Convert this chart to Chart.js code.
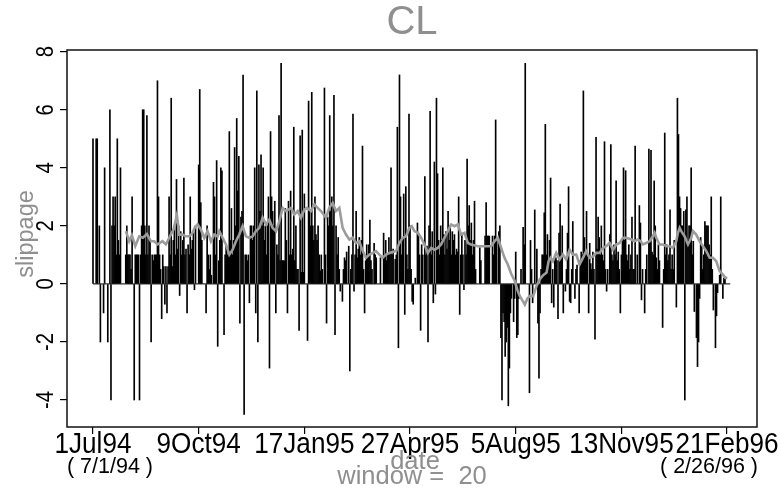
<!DOCTYPE html>
<html lang="en">
<head>
    <meta charset="UTF-8">
    <script src="https://cdn.jsdelivr.net/npm/chart.js"></script>
    <style>
        body { margin: 0; background: #fff; }
    </style>
    <title>CL slippage</title>
</head>
<body>
    <canvas id="slipChart" width="778" height="489"></canvas>

    <script>
        // x axis = calendar days counted from 1Jul94
        const tickDays = [0, 100, 200, 300, 400, 500, 600];
        const tickLabels = ['1Jul94', '9Oct94', '17Jan95', '27Apr95', '5Aug95', '13Nov95', '21Feb96'];
        const yTicks = [-4, -2, 0, 2, 4, 6, 8];
        const firstDay = 0, lastDay = 603;   // 7/1/94 .. 2/26/96

        // daily slippage
        const slipDays = [
            0,3,4,6,7,10,11,14,16,17, 18,19,20,21,22,23,24,25,26,31,
            32,33,34,35,36,37,39,40,41,42, 43,44,45,46,47,48,49,50,51,52,
            53,54,55,56,57,58,59,60,61,62, 63,64,65,66,67,68,69,70,71,72,
            73,74,75,76,77,78,79,80,81,82, 83,84,85,86,87,88,89,90,91,92,
            93,94,95,96,97,
            100,101,102,103,107,108,109,110,111,112, 114,115,116,117,118,119,120,121,122,124,
            125,126,127,128,129,130,131,132,133,134, 135,136,137,138,139,140,141,142,143,144,
            145,146,147,148,149,150,151,152,153,154, 155,156,157,158,159,160,161,162,163,164,
            165,166,167,168,169,170,171,172,173,174, 175,176,177,178,179,180,181,182,183,184,
            185,186,187,188,189,190,191,192,193,194, 195,196,197,198,199,200,
            203,204,205,206,207,208,209,210,211,212, 213,214,215,216,217,219,220,221,222,223,
            224,225,226,227,228,229,230,231,232,233, 234,236,237,238,239,240,242,243,244,245,
            246,247,248,249,250,251,252,253,254,255, 256,257,258,259,260,261,262,263,264,266,
            267,268,272,275,276,277,278,279,280,281, 282,283,284,286,287,288,289,290,291,292,
            293,294,295,296,297,298,299,300,301,302, 303,305,
            307,308,309,310,311,312,314,315,316,317, 318,319,320,321,322,323,324,325,326,327,
            328,329,330,331,332,333,334,335,336,337, 338,339,340,341,342,343,344,345,346,347,
            348,349,350,351,352,353,354,355,356,357, 358,359,360,361,362,366,367,371,372,373,
            374,375,378,379,380,381,382,384,385,386, 387,388,389,390,391,392,393,394,395,396,
            398,399,400,401,402,403,405,407,408,409,
            413,414,415,416,418,420,421,422,423,424, 425,426,427,428,429,430,431,432,433,434,
            435,436,437,438,439,440,441,442,443,444, 445,447,448,449,450,451,452,453,454,456,
            457,458,460,461,462,463,464,465,466,467, 468,469,470,471,472,473,474,475,476,477,
            478,479,480,481,482,483,484,485,486,487, 489,490,491,492,493,494,495,496,497,498,
            499,500,501,502,503,504,505,506,507,508, 509,510,511,512,513,
            515,517,518,519,520,522,523,524,526,527, 528,529,530,531,532,533,534,535,536,539,
            540,541,542,543,544,545,546,547,548,549, 550,552,553,554,555,556,557,558,559,560,
            561,562,563,564,565,566,567,568,569,571, 572,573,574,575,576,577,578,579,580,581,
            582,583,584,585,586,587,589,590,591,593, 594,596,597,598
        ];
        const slipValues = [
            5,5,5,2,-2,-1,4,-2,6,-4, 2,3,2,3,1,5,1.5,1,4,1,
            2,1,1,1,0.5,3,-4,1,1,1, 1,-4,1,2,6,6,2,1,5.8,1,
            2,1.5,-2,1,0.8,1,1,1,7,3, 1,0.5,-1.2,1,0.6,-0.7,0.6,-1,0.6,3,
            1,6.4,0.6,1.5,2,1,3.6,1.2,2,-0.4, 1.8,1,1.5,3.65,1,1.2,-1,1.35,1,3,
            1.2,1.5,1.8,-0.2,2,
            4.1,6.7,2.8,1.5,-1,2,1,0.5,1,0.3, 3.5,3,1,4.25,-2.15,0.8,1.5,4,3.9,-1.75,
            1,1.3,1,1.2,5.25,1.5,2.6,1,1.5,4.7, 2,5.7,3.2,4.4,-1.35,2.3,2.5,7.2,-4.5,1,
            1,0.8,1,-0.65,2,2,1.5,2,4,-1, 6.65,-2,4.1,2.5,4.45,2,4,1.5,2,1,
            2,3,-2.9,5.25,3,2.5,2,2.85,-1,1.35, 1,5.8,0.8,7.6,0.8,0.8,0.8,2.6,1.5,-1,
            2.85,1,3.2,1,1.2,5.4,0.8,2,0.5,0.5, -1.6,5.1,0.4,5.3,0.4,3.1,
            -1.95,6.3,2.5,2,6.6,2,1.5,3,1.7,1.5, 2,1,0.45,1,0.5,6.75,1,-1.35,2.3,2,
            5.8,2.5,3,2,6.5,-1.75,2,1,1.6,0.5, -0.25,-0.6,0.5,0.9,0.8,1.1,1.3,-3,0.5,1,
            5.85,-0.25,1,2.5,0.9,1.2,1.6,1,1.5,4.75, 0.5,-1,0.8,1.35,1,1.35,2.2,0.8,0.5,1.4,
            1,0.9,0.9,1.75,1,1.5,0.8,1,1.6,1, 4,1,1.2,0.85,1,5.4,-2.2,7.2,3,1,
            1.5,3.1,-1.05,3.35,1,0.5,5.85,2,0.5,-0.6, -0.7,0.2,
            2.1,1.75,1,-1.6,1.35,1,3.7,1,1.3,-2, 2,5.95,1,1.8,-0.65,4.2,-0.35,6.4,3.8,1.5,
            1,2,1.5,4,1.7,1,1.8,1.2,2.5,1.5, 2,1,1.8,1.5,1.7,1,1.2,1.1,3,-1.05,
            1,1.75,1,-0.2,1.5,1,4.3,2,2.7,1.5, 2.1,1,1.5,2.85,0.5,1.25,0.8,1.65,2.8,1.65,
            1.65,1.65,1.65,1,1.65,5.65,1.5,1.8,2,-1.85, -4,-1,-1.3,-2.5,-2,-1.5,-4.2,-2.9,-1,-0.5,
            -1.3,-0.5,1.1,-1.85,-1.75,-0.5,0.5,1.95,1.35,7.6,
            -3.75,1.5,0.5,-0.65,2.55,1.2,-1.35,-3.25,-1,0.5, 1,1,2.45,5.5,1,1.7,0.8,1.5,3.65,-0.65,
            0.5,-0.8,1,0.9,0.8,-1.2,1.75,2.75,1,2, -1,-0.25,0.5,1.75,3.35,-0.6,-0.65,0.5,2.15,-0.5,
            0.5,0.65,-1,0.8,1.1,1,6.65,1.6,1,2.5, 1,-1,1.4,0.7,0.5,1.1,0.5,-1.9,5.05,1.2,
            2.3,1.6,1,2,1,0.8,4.9,0.5,-0.25,0.5, 1.7,4.8,1,0.8,1.35,1,3.55,0.8,1.1,0.5,
            -1,1,1.5,4,1.5,3.9,1,0.8,1.35,0.5, 1,2.3,0.5,0.5,4.75,
            1,2.7,2.1,-0.55,0.5,-1,0.5,1,4.65,1.5, 4.6,1.1,1,3.55,2,0.9,0.5,1.35,0.8,-1.5,
            0.5,5.2,1,1.35,0.8,1,2.55,0.5,1,0.5, 1.5,-0.8,6.4,5.15,3,2.6,2,2,2.5,-4,
            2.55,3,1.5,2,2,4,1,1.47,-0.95,-1.85, -2.85,-2,-0.5,1.6,1.35,0.5,1,2.15,2,2,
            2,1.35,1,3,0.5,-0.9,-2.2,-1.1,-0.3,0.3, 3,-0.5,0.2,0.2
        ];

        // 20-day moving average of slippage
        const maDays = [
            31.1,34.3,36.8,40.0,43.7,47.2,51.0,54.8,57.9,61.1,
            65.8,69.0,72.1,76.2,79.4,81.6,84.8,87.9,91.1,94.2,
            96.4,99.0,102.1,105.3,108.4,111.6,114.7,117.9,119.5,122.6,
            125.8,129.0,132.1,135.3,138.4,141.6,144.7,147.9,151.1,154.2,
            157.4,160.5,163.7,166.8,170.0,173.2,176.3,179.5,182.6,187.4,
            190.5,193.7,196.8,200.0,202.5,206.3,209.4,212.6,215.7,220.5,
            223.6,226.8,229.9,233.1,236.2,239.4,242.6,245.7,248.9,252.0,
            255.2,258.3,261.5,264.7,267.8,271.0,274.1,277.3,280.4,283.6,
            286.8,289.9,293.1,296.2,299.4,301.6,304.1,307.3,310.5,313.6,
            316.8,319.9,323.1,326.2,329.4,332.6,335.7,338.9,342.0,345.2,
            348.3,351.5,354.7,357.8,364.1,370.4,376.8,379.9,383.1,386.2,
            389.4,392.5,395.7,399.1,401.5,403.9,406.0,408.6,411.0,413.4,
            416.5,419.7,422.8,426.0,429.2,431.1,433.0,435.2,438.3,441.5,
            444.6,447.8,451.0,454.1,457.3,460.4,463.6,466.7,469.9,473.1,
            476.2,479.4,482.5,485.7,488.8,492.0,495.2,498.3,501.5,504.6,
            509.4,512.5,515.6,518.1,520.3,523.5,526.7,529.8,531.4,533.0,
            536.1,539.3,542.4,545.6,548.7,550.3,551.9,553.5,555.1,556.6,
            559.8,563.0,566.1,567.7,570.8,574.0,577.2,580.3,583.5,586.6,
            589.8,592.9,596.1,598.3,600.2
        ];
        const maValues = [
            1.82,1.47,1.68,1.30,1.64,1.59,1.72,1.47,1.47,1.36,
            1.47,1.36,1.59,1.87,2.37,1.70,1.70,1.64,1.64,1.76,
            1.95,2.05,1.87,1.59,1.82,1.47,1.70,1.64,1.82,1.59,
            1.36,1.01,1.18,1.47,1.70,1.99,1.64,1.59,1.64,1.82,
            1.93,2.28,2.05,2.22,1.93,1.82,2.16,2.62,2.51,2.62,
            2.39,2.51,2.28,2.56,2.62,2.51,2.74,2.62,2.51,2.28,
            2.62,2.79,2.51,2.62,1.93,1.70,1.53,1.59,1.41,1.47,
            1.13,0.90,1.01,1.07,1.13,1.01,0.90,1.01,1.07,1.10,
            1.13,1.41,1.59,1.64,1.93,1.99,1.82,1.76,1.59,1.36,
            1.07,1.24,1.18,1.24,1.36,1.59,1.82,2.05,1.99,2.05,
            1.70,1.76,1.41,1.36,1.30,1.30,1.30,1.47,1.59,1.24,
            0.90,0.67,0.35,0.10,-0.20,-0.42,-0.55,-0.71,-0.50,-0.42,
            -0.42,-0.07,0.16,0.30,0.39,0.78,0.90,0.78,1.07,0.84,
            1.01,0.84,1.18,1.01,1.01,0.67,0.90,1.13,0.90,0.95,
            1.07,1.07,1.24,1.30,1.41,1.18,1.36,1.41,1.59,1.59,
            1.53,1.47,1.53,1.47,1.36,1.41,1.47,1.64,1.76,1.59,
            1.36,1.36,1.30,1.30,1.24,1.36,1.47,1.76,1.93,1.82,
            1.64,1.36,1.59,1.82,1.70,1.47,1.30,1.13,0.90,0.90,
            0.78,0.44,0.32,0.21,0.21
        ];

        const FONT = '"Liberation Sans", Arial, Helvetica, sans-serif';
        const GREY = '#8f8f8f';

        // text helper: sx < 1 squeezes the glyphs to get a narrow face
        function drawText(c, text, x, y, size, color, sx, angle) {
            c.save();
            c.translate(x, y);
            if (angle) c.rotate(angle);
            c.scale(sx, 1);
            c.font = size + 'px ' + FONT;
            c.fillStyle = color;
            c.textAlign = 'center';
            c.textBaseline = 'middle';
            c.fillText(text, 0, 0);
            c.restore();
        }

        // frame, title, tick labels and the notes under the x axis
        const extraText = {
            id: 'extraText',
            afterDraw(chart) {
                const c = chart.ctx;
                const a = chart.chartArea;
                const xs = chart.scales.x;
                const ys = chart.scales.y;
                c.save();
                c.strokeStyle = '#111';
                c.lineWidth = 1.5;
                c.strokeRect(a.left, a.top, a.right - a.left, a.bottom - a.top);
                c.restore();

                drawText(c, 'CL', (a.left + a.right) / 2, 22.5, 40, GREY, 1);

                yTicks.forEach(v => {
                    drawText(c, String(v), 47, ys.getPixelForValue(v), 23, '#000', 0.88, -Math.PI / 2);
                });
                tickDays.forEach((d, i) => {
                    drawText(c, tickLabels[i], xs.getPixelForValue(d), 444.5, 29, '#000', 0.9);
                });

                drawText(c, 'slippage', 27, 234, 23.5, GREY, 1, -Math.PI / 2);
                drawText(c, 'date', 415, 462, 25.5, GREY, 1);
                drawText(c, 'window =  20', 412, 477, 25.5, GREY, 1);

                drawText(c, '( 7/1/94 )', 110, 467, 21.5, '#000', 1);
                drawText(c, '( 2/26/96 )', 709, 467, 21.5, '#000', 1);
            }
        };

        const config = {
            data: {
                datasets: [
                    {
                        type: 'line',
                        label: 'window 20',
                        data: maDays.map((d, i) => ({ x: d, y: maValues[i] })),
                        borderColor: '#9c9c9c',
                        borderWidth: 2.6,
                        pointRadius: 0,
                        tension: 0,
                        order: 0
                    },
                    {
                        type: 'bar',
                        label: 'slippage',
                        data: slipDays.map((d, i) => ({ x: d, y: slipValues[i] })),
                        backgroundColor: '#000',
                        barThickness: 1,
                        order: 1
                    },
                    {
                        type: 'line',
                        label: 'zero',
                        data: [{ x: firstDay, y: 0 }, { x: lastDay, y: 0 }],
                        borderColor: '#000',
                        borderWidth: 1,
                        pointRadius: 0,
                        order: 2
                    }
                ]
            },
            plugins: [extraText],
            options: {
                responsive: false,
                animation: false,
                devicePixelRatio: 1,
                layout: { padding: { left: 0, right: 21, top: 50, bottom: 0 } },
                plugins: {
                    legend: { display: false },
                    tooltip: { enabled: false },
                    title: { display: false }
                },
                scales: {
                    x: {
                        type: 'linear',
                        offset: false,
                        min: -24.6,
                        max: 628.3,
                        afterBuildTicks: s => { s.ticks = tickDays.map(v => ({ value: v })); },
                        afterFit: s => { s.height = 62; },
                        grid: { offset: false, drawOnChartArea: false, tickLength: 7, color: '#000', lineWidth: 1.2 },
                        border: { display: false },
                        ticks: { display: false }
                    },
                    y: {
                        min: -4.93,
                        max: 8.06,
                        afterBuildTicks: s => { s.ticks = yTicks.map(v => ({ value: v })); },
                        afterFit: s => { s.width = 67; },
                        grid: { drawOnChartArea: false, tickLength: 7, color: '#000', lineWidth: 1.2 },
                        border: { display: false },
                        ticks: { display: false }
                    }
                }
            }
        };

        new Chart(document.getElementById('slipChart'), config);
    </script>
</body>
</html>
